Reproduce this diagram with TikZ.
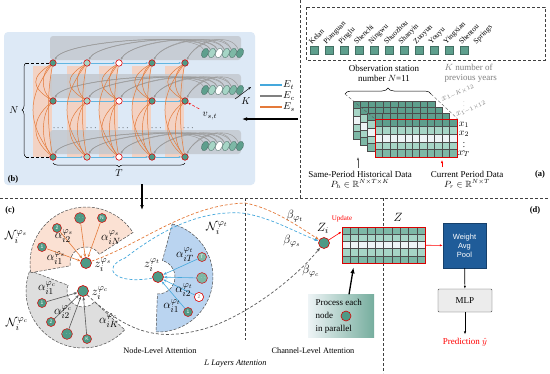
\documentclass[tikz,border=0pt]{standalone}
\usepackage{amsmath,amssymb}
\usepackage{fontspec}
\setmainfont{Liberation Serif}
\setsansfont{Liberation Sans}
\usepackage{tikz}
\usetikzlibrary{arrows.meta,decorations.pathreplacing,shapes.geometric}
\definecolor{tealdk}{HTML}{5E9F8D}
\definecolor{teallt}{HTML}{A6D5C6}
\definecolor{tealwh}{HTML}{EEF4F6}
\definecolor{tealmd}{HTML}{7DB8A6}
\definecolor{nodeteal}{HTML}{4E9A86}
\definecolor{bgblue}{HTML}{DDE9F6}
\definecolor{stripgray}{HTML}{C2C7CD}
\definecolor{orgpale}{HTML}{F3D2C3}
\definecolor{orgedge}{HTML}{E47A3A}
\definecolor{edgeblue}{HTML}{45A8DC}
\definecolor{secS}{HTML}{FBE1D3}
\definecolor{secC}{HTML}{DEDEDE}
\definecolor{secT}{HTML}{BAD4F0}
\definecolor{wapblue}{HTML}{1F5C99}

\begin{document}
\begin{tikzpicture}[x=1pt,y=-1pt,
	gnode/.style={circle, draw=red!85!black, line width=.6pt, minimum size=6.5pt, inner sep=0pt},
	cyl/.style={ellipse, draw=tealdk!60!black, line width=.3pt, minimum width=6.5pt, minimum height=10pt, inner sep=0pt, rotate=-25},
	etedge/.style={edgeblue!85, line width=1pt, -{Latex[length=2.5pt]}},
	ecedge/.style={gray!80, line width=.45pt, -{Latex[length=2.5pt]}},
	esedge/.style={orgedge, line width=.5pt},
	cnode/.style={circle, draw=red!85!black, fill=nodeteal, line width=.6pt, minimum size=11pt, inner sep=0pt},
	nbnode/.style={circle, draw=red!85!black, fill=nodeteal, line width=.5pt, minimum size=9pt, inner sep=0pt, text=white, font=\fontsize{5}{6}\sffamily},
	secline/.style={draw=gray!60!black, line width=.5pt, dash pattern=on 3pt off 1.5pt},
	sarr/.style={orgedge, line width=.6pt, -{Stealth[length=3.5pt]}},
	carr/.style={gray!70!black, line width=.6pt, -{Stealth[length=3.5pt]}},
	tarr/.style={edgeblue, line width=.6pt, -{Stealth[length=3.5pt]}},
	gridln/.style={gray!60!black, line width=.3pt},
	txt/.style={font=\fontsize{9}{10}\selectfont},
	sml/.style={font=\fontsize{8.3}{9}\selectfont},
	mth/.style={font=\fontsize{12.5}{14}\selectfont, inner sep=0pt},
	sep/.style={black!75, line width=.6pt, dash pattern=on 3pt off 2pt},
	bigarr/.style={line width=1.3pt, -{Latex[length=5pt]}},
	panel/.style={font=\bfseries\fontsize{8.5}{9}\selectfont}]
	\useasboundingbox (0,0) rectangle (550,373);
	\fill[white] (0,0) rectangle (550,373);
	\fill[bgblue, rounded corners=4pt] (4,32) rectangle (255,185);
	\foreach \x in {53,87,119,152,185} \fill[orgpale] (\x-20,66) rectangle (\x-1,157);
	\foreach \y in {63,101,157} \fill[stripgray, opacity=.8, rounded corners=3pt] (50,\y-27) rectangle (241,\y-3);
	\foreach \y [count=\rw] in {53,90,146} {\foreach \cc [count=\k] in {tealdk,teallt,white,teallt,tealmd,tealdk} \node[cyl, fill=\cc] (cy\rw\k) at (198+7*\k,\y) {};}
	\foreach \y [count=\rw] in {63,101,157} {\foreach \x/\cc [count=\cl] in {53/nodeteal,87/teallt,119/white,152/nodeteal,185/nodeteal} \node[gnode, fill=\cc] (g\rw\cl) at (\x,\y) {};}
	\foreach \rw in {1,2,3} {\foreach \cl/\k in {1/1,1/2,2/2,2/3,3/3,3/4,4/4,4/5,5/5,5/6} \draw[ecedge] (cy\rw\k) .. controls +(-10,-22) and +(12,-22) .. (g\rw\cl);}
	\foreach \rw in {1,2,3} {\foreach \a/\b in {1/2,2/3,3/4,4/5} \draw[etedge] (g\rw\a) -- (g\rw\b);}
	\foreach \x [count=\cl] in {59,92,124,157,189} \node[font=\small, inner sep=0pt] (dt\cl) at (\x,128) {$\cdots$};
	\foreach \cl in {1,...,5} {
		\draw[esedge] (g1\cl) .. controls +(-12,10) and +(-12,-10) .. (g2\cl);
		\draw[esedge] (g1\cl) .. controls +(-22,14) and +(-22,-14) .. (g2\cl);
		\draw[esedge] (g2\cl) .. controls +(-12,14) and +(-12,-14) .. (g3\cl);
		\draw[esedge] (g2\cl) .. controls +(-22,18) and +(-22,-18) .. (g3\cl);
		\draw[esedge] (g1\cl) .. controls +(-26,35) and +(-26,-35) .. (g3\cl);
		\draw[esedge] (g1\cl) .. controls +(-6,30) and +(-6,-30) .. (g3\cl);
	}
	\coordinate (nt) at (26,63); \coordinate (nb) at (26,157);
	\draw[densely dashed, line width=.4pt] (nt) -- (g11); \draw[densely dashed, line width=.4pt] (nb) -- (g31);
	\draw[decorate, decoration={brace, amplitude=4pt}, line width=.5pt] (nb) -- (nt) node[midway, left=4pt] (nlab) {$N$};
	\coordinate (tl) at (53,163); \coordinate (tr) at (185,163);
	\draw[decorate, decoration={brace, amplitude=4pt}, line width=.5pt] (tr) -- (tl) node[midway, below=3pt] (tlab) {$T$};
	\coordinate (ka) at (235,99); \coordinate (kb) at (251,87);
	\draw[-{Stealth[length=3pt]}, line width=.5pt] (ka) -- (kb);
	\node (klab) at (246,101) {$K$};
	\node (vst) at (210,116) {$v_{s,t}$};
	\draw[red, densely dashed, -{Stealth[length=3pt]}, line width=.5pt] (vst.north west) -- (g25);
	\foreach \y/\cc/\l [count=\k] in {85/edgeblue/E_t,96/gray/E_c,107/orgedge/E_s} {\coordinate (lga\k) at (260,\y); \node[anchor=west, inner sep=1pt] (lgt\k) at (282,\y) {$\l$}; \draw[\cc, line width=1.2pt] (lga\k) -- (lgt\k);}
	\node[panel] (lb) at (13,179) {(b)};
	\draw[sep] (0,198) -- (550,198);
	\draw[sep] (300,0) -- (300,198);
	\draw[sep] (245,198) -- (245,340);
	\draw[sep] (383,198) -- (383,373);
	\coordinate (aa) at (298,119); \coordinate (ab) at (242,119);
	\draw[bigarr] (aa) -- (ab);
	\coordinate (ba) at (142,184); \coordinate (bb) at (142,210);
	\draw[bigarr] (ba) -- (bb);
	\draw[sep] (306,7) rectangle (545,60);
	\foreach \k in {0,...,10} \node[draw=tealdk!70!black, fill=tealdk, minimum size=7.5pt, inner sep=0pt] (st\k) at (314+15*\k,50) {};
	\foreach \s [count=\k from 0] in {Kelan,Pianguan,Pinglu,Shenchi,Ningwu,Shuozhou,Shanyin,Zuoyun,Youyu,Yingxian,Shentou,Springs} \node[anchor=west, rotate=45, font=\fontsize{7.5}{8}\selectfont, inner sep=0pt] (nm\k) at (310+15*\k,43) {\s};
	\node[txt, align=center] (obs) at (384,73) {Observation station\\number $N$=11};
	\node[txt, align=left, text=gray, anchor=west] (kyr) at (441,73) {$K$ number of\\previous years};
	\foreach \k in {0,...,3} {
		\begin{scope}[shift={(353+7.3*\k,101+6*\k)}]
			\foreach \cc [count=\jr from 0] in {tealdk,teallt,tealwh,teallt,tealmd} \fill[\cc] (0,7.6*\jr) rectangle (82,7.6*\jr+7.6);
			\foreach \i in {1,...,10} \draw[gridln] (7.45*\i,0) -- (7.45*\i,38);
			\foreach \jr in {1,...,4} \draw[gridln] (0,7.6*\jr) -- (82,7.6*\jr);
			\draw[gridln, line width=.4pt] (0,0) rectangle (82,38);
		\end{scope}
	}
	\node[draw=red!85!black, line width=.8pt, minimum width=82pt, minimum height=38pt, inner sep=0pt] (pr) at (416,138) {};
	\coordinate (br1) at (345,94); \coordinate (br2) at (431,94);
	\draw[decorate, decoration={brace, amplitude=6pt}, line width=.5pt] (br1) -- (br2);
	\draw[gray!70!black, densely dashed, line width=.4pt] (br1) -- (pr.north west);
	\draw[gray!70!black, densely dashed, line width=.4pt] (br2) -- (pr.north east);
	\node[gray, rotate=25, font=\small] (xk) at (458,93) {$x_{1-K\times 12}$};
	\node[gray, font=\tiny] (xd) at (464,103) {$\vdots$};
	\node[gray, rotate=25, font=\small] (x1) at (471,109) {$x_{1-1\times 12}$};
	\foreach \l/\y [count=\k] in {x_1/125,x_2/134,x_T/154} \node[inner sep=0pt] (xr\k) at (464,\y) {$\l$};
	\node[inner sep=0pt, font=\small] (xrd) at (464,144) {$\vdots$};
	\coordinate (ha) at (358,168); \coordinate (hb) at (358,157);
	\draw[-{Latex[length=3pt]}, gray!70!black, line width=.5pt] (ha) -- (hb);
	\coordinate (ca) at (442,167); \coordinate (cb) at (442,160);
	\draw[-{Latex[length=3pt]}, red, line width=.5pt] (ca) -- (cb);
	\node[txt] (hist) at (360,174) {Same-Period Historical Data};
	\node[txt] (histm) at (360,184) {$P_h\in\mathbb{R}^{N\times T\times K}$};
	\node[txt] (cur) at (467,174) {Current Period Data};
	\node[txt] (curm) at (467,184) {$P_r\in\mathbb{R}^{N\times T}$};
	\node[panel] (la) at (540,174) {(a)};
	\node[panel] (lc) at (10,210) {(c)};
	\filldraw[fill=secC, secline, shift={(83,291)}] (43:57) arc[start angle=43, end angle=201, radius=57] -- (201:16) arc[start angle=201, end angle=43, radius=16] -- cycle;
	\filldraw[fill=secS, secline, shift={(86,263)}] (-190:56) arc[start angle=-190, end angle=-33, radius=56] -- (-33:16) arc[start angle=-33, end angle=-190, radius=16] -- cycle;
	\filldraw[fill=secT, secline, shift={(158,277)}] (-75:55) arc[start angle=-75, end angle=92, radius=55] -- (92:17) arc[start angle=92, end angle=-75, radius=17] -- cycle;
	\node[cnode] (zs) at (86,263) {};
	\node[cnode] (zc) at (83,291) {};
	\node[cnode] (zt) at (158,277) {};
	\foreach \x/\y/\t [count=\k] in {42/247/1,57/228/2,80/218/$\cdots$,102/218/N} {\node[nbnode] (s\k) at (\x,\y) {\t}; \draw[sarr] (s\k) -- (zs);}
	\foreach \x/\y/\t [count=\k] in {42/303/1,51/322/2,67/334/$\cdots$,87/339/K} {\node[nbnode] (c\k) at (\x,\y) {\t}; \draw[carr] (c\k) -- (zc);}
	\foreach \x/\y/\t/\cc [count=\k] in {188/312/1/nodeteal,199/297/2/white,202/278/$\cdots$/tealmd,202/257/T/tealmd} {\node[nbnode, fill=\cc] (t\k) at (\x,\y) {\t}; \draw[tarr] (t\k) -- (zt);}
	\node[nbnode, fill=white, text=gray] at (t2) {2};
	\node[mth] (as1) at (56,258) {$\alpha_{i1}^{\varphi_s}$};
	\node[mth] (as2) at (64,236) {$\alpha_{i2}^{\varphi_s}$};
	\node[mth] (asn) at (111,238) {$\alpha_{iN}^{\varphi_s}$};
	\node[mth] (zsl) at (103,265) {$z_i^{\varphi_s}$};
	\node[mth] (nsl) at (16,237) {$\mathcal{N}_i^{\varphi_s}$};
	\node[mth] (ac1) at (47,288) {$\alpha_{i1}^{\varphi_c}$};
	\node[mth] (ac2) at (63,312) {$\alpha_{i2}^{\varphi_c}$};
	\node[mth] (ack) at (109,321) {$\alpha_{iK}^{\varphi_c}$};
	\node[mth] (zcl) at (100,293) {$z_i^{\varphi_c}$};
	\node[mth] (ncl) at (17,324) {$\mathcal{N}_i^{\varphi_c}$};
	\node[mth] (at1) at (172,306) {$\alpha_{i1}^{\varphi_t}$};
	\node[mth] (at2) at (184,290) {$\alpha_{i2}^{\varphi_t}$};
	\node[mth] (att) at (185,255) {$\alpha_{iT}^{\varphi_t}$};
	\node[mth] (ztl) at (152,265) {$z_i^{\varphi_t}$};
	\node[mth] (ntl) at (217,228) {$\mathcal{N}_i^{\varphi_t}$};
	\node[cnode] (zi) at (324,243) {};
	\node[mth] (zil) at (323,228) {$Z_i$};
	\draw[orgedge, line width=.7pt, dash pattern=on 3pt off 2pt, -{Latex[length=4pt]}] (zs) .. controls (140,245) and (185,205) .. (245,203) .. controls (272,208) and (298,226) .. (zi);
	\draw[edgeblue, line width=.7pt, dash pattern=on 3pt off 2pt, -{Latex[length=4pt]}] (zt) .. controls (115,285) and (100,268) .. (125,258) .. controls (155,235) and (195,210) .. (242,213) .. controls (270,217) and (295,232) .. (zi);
	\draw[gray!70!black, line width=.7pt, dash pattern=on 3pt off 2pt, -{Latex[length=4pt]}] (zc) .. controls (130,335) and (160,340) .. (200,330) .. controls (240,320) and (292,282) .. (zi);
	\node[mth] (bt) at (295,216) {$\beta_{\varphi_t}$};
	\node[mth] (bs) at (292,241) {$\beta_{\varphi_s}$};
	\node[mth] (bc) at (311,271) {$\beta_{\varphi_c}$};
	\node[sml] (nla) at (160,351) {Node-Level Attention};
	\node[sml] (cla) at (313,351) {Channel-Level Attention};
	\node[sml, font=\fontsize{8.3}{9}\selectfont\itshape] (lla) at (235,364) {$L$ Layers Attention};
	\foreach \cc [count=\jr from 0] in {tealmd,teallt,tealwh,teallt,tealmd} \fill[\cc] (342,227+7.2*\jr) rectangle (425,234.2+7.2*\jr);
	\foreach \i in {1,...,9} \draw[gridln] (342+8.3*\i,227) -- (342+8.3*\i,263);
	\foreach \jr in {1,...,4} \draw[gridln] (342,227+7.2*\jr) -- (425,227+7.2*\jr);
	\node[draw=red!85!black, line width=.7pt, minimum width=83pt, minimum height=36pt, inner sep=0pt] (zm) at (383.5,245) {};
	\node[mth] (zml) at (398,217) {$Z$};
	\node[red, font=\fontsize{7}{8}\selectfont] (upd) at (342,219) {Update};
	\draw[red, line width=.6pt, -{Latex[length=3pt]}] (zi) -- ([yshift=-5pt]zm.north west);
	\node[left color=tealwh, right color=tealdk!85, minimum width=66pt, minimum height=43pt] (proc) at (341,316) {};
	\node[txt, font=\fontsize{9}{13}\selectfont, align=left, anchor=west] (proct) at (312,316) {Process each\\node\\in parallel};
	\node[cnode, minimum size=10pt] (pc) at (346,316) {};
	\draw[line width=1.3pt, -{Latex[length=6pt]}] ([xshift=8pt]proc.north) -- ([xshift=-30pt, yshift=-4pt]zm.south);
	\node[fill=wapblue, draw=wapblue!70!black, text=white, font=\sffamily\fontsize{7.5}{9}\selectfont, align=center, minimum width=43pt, minimum height=45pt, inner sep=0pt] (wap) at (464.5,245.5) {Weight\\Avg\\Pool};
	\draw[red, line width=.6pt, -{Latex[length=3pt]}] (zm) -- (wap);
	\node[txt, fill=gray!15, draw=black!70, minimum width=54pt, minimum height=23pt, rounded corners=1pt] (mlp) at (465,300.5) {MLP};
	\node[txt, red] (pred) at (465,342) {Prediction $\hat{y}$};
	\draw[line width=.7pt, -{Latex[length=3pt]}] (wap) -- (mlp);
	\draw[line width=.7pt, -{Latex[length=3pt]}] (mlp) -- (pred);
	\node[panel] (ld) at (535,210) {(d)};
\end{tikzpicture}
\end{document}
